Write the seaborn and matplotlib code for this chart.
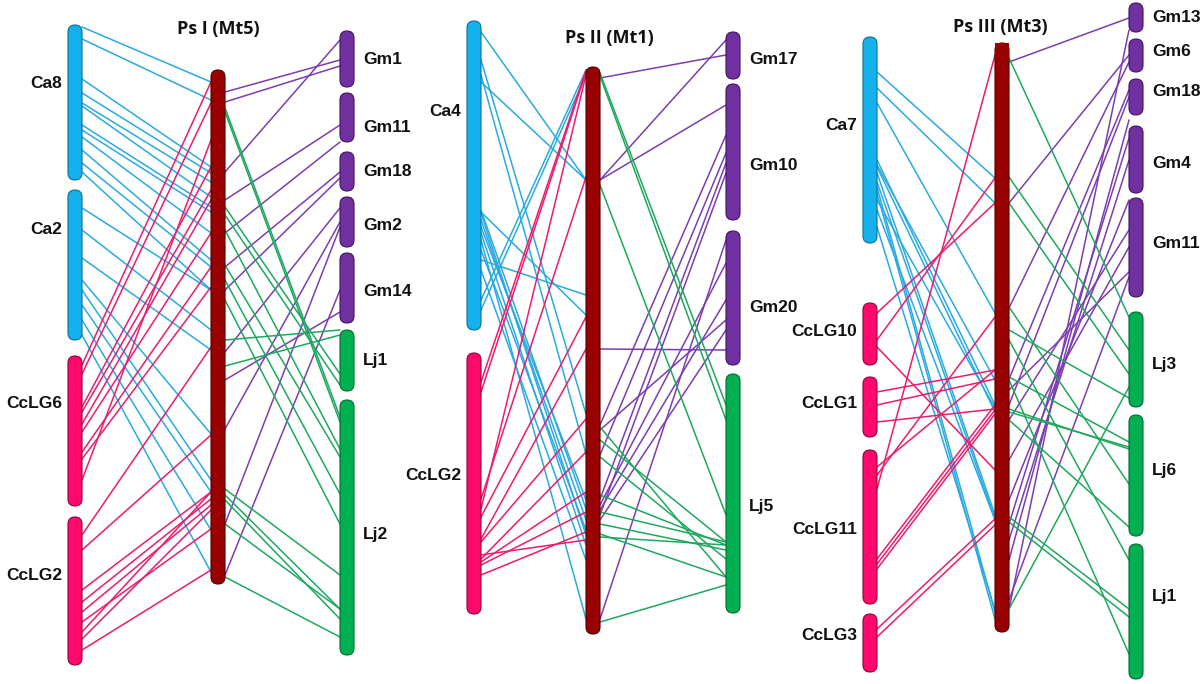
import numpy as np
import pandas as pd
import matplotlib
matplotlib.use("Agg")
import matplotlib.pyplot as plt
import seaborn as sns
from matplotlib.patches import FancyBboxPatch, Rectangle

# ---------------- DATA ----------------
titles = ["Ps I (Mt5)", "Ps II (Mt1)", "Ps III (Mt3)"]

# chromosome spans (positions along the synteny map, pixel-like units)
p1_left_names = ["Ca8", "Ca2", "CcLG6", "CcLG2"]
p1_left_start = [25, 190, 356, 517]
p1_left_end = [180, 340, 506, 665]
p1_center_span = [70, 584]
p1_right_names = ["Gm1", "Gm11", "Gm18", "Gm2", "Gm14", "Lj1", "Lj2"]
p1_right_start = [31, 93, 152, 197, 253, 330, 400]
p1_right_end = [87, 142, 191, 247, 323, 391, 655]

p2_left_names = ["Ca4", "CcLG2"]
p2_left_start = [21, 353]
p2_left_end = [330, 614]
p2_center_span = [67, 634]
p2_right_names = ["Gm17", "Gm10", "Gm20", "Lj5"]
p2_right_start = [32, 84, 231, 374]
p2_right_end = [79, 220, 365, 613]

p3_left_names = ["Ca7", "CcLG10", "CcLG1", "CcLG11", "CcLG3"]
p3_left_start = [37, 303, 377, 450, 614]
p3_left_end = [243, 365, 437, 604, 672]
p3_center_span = [43, 632]
p3_right_names = ["Gm13", "Gm6", "Gm18", "Gm4", "Gm11", "Lj3", "Lj6", "Lj1"]
p3_right_start = [3, 39, 79, 126, 198, 312, 415, 544]
p3_right_end = [32, 72, 115, 193, 297, 407, 536, 679]

# links: (position on outer chromosome, position on central chromosome)
p1_ca_src = [27, 39, 79, 93, 103, 106, 125, 130, 137, 150, 163, 172, 208, 230, 258, 280, 290, 305, 320, 335]
p1_ca_dst = [82, 100, 167, 173, 182, 197, 207, 212, 233, 260, 267, 290, 290, 330, 350, 434, 480, 492, 530, 572]
p1_cc_src = [365, 374, 407, 412, 424, 432, 452, 459, 480, 535, 550, 590, 602, 612, 622, 632, 639, 650]
p1_cc_dst = [82, 103, 167, 190, 200, 233, 267, 287, 140, 347, 435, 492, 499, 505, 529, 492, 510, 570]
p1_gm_src = [92, 102, 172, 200, 233, 267, 290, 352, 429, 524, 575, 380]
p1_gm_dst = [60, 66, 40, 125, 142, 172, 178, 208, 222, 227, 290, 312]
p1_lj_src = [108, 112, 207, 215, 230, 265, 280, 300, 366, 489, 495, 500, 524, 577, 340]
p1_lj_dst = [417, 422, 374, 385, 449, 457, 494, 524, 335, 575, 609, 619, 609, 637, 330]

p2_ca_src = [32, 60, 75, 82, 210, 213, 220, 227, 233, 260, 270, 300, 310, 212, 240, 250]
p2_ca_dst = [180, 414, 454, 180, 509, 535, 520, 500, 545, 295, 560, 70, 75, 315, 619, 530]
p2_cc_src = [382, 392, 499, 509, 517, 539, 542, 559, 562, 565, 575, 555]
p2_cc_dst = [70, 72, 177, 75, 317, 349, 419, 452, 492, 512, 532, 540]
p2_gm_src = [78, 180, 180, 425, 455, 499, 515, 619, 505, 510, 430, 520, 349]
p2_gm_dst = [55, 40, 105, 135, 153, 163, 173, 240, 263, 300, 320, 330, 350]
p2_lj_src = [73, 76, 185, 427, 457, 495, 512, 524, 534, 537, 622, 440]
p2_lj_dst = [405, 420, 515, 577, 559, 545, 542, 550, 577, 545, 585, 542]

p3_ca_src = [72, 88, 103, 160, 167, 173, 182, 187, 193, 200, 210, 227, 165]
p3_ca_dst = [178, 203, 313, 405, 412, 515, 519, 612, 619, 408, 520, 610, 380]
p3_cc_src = [313, 340, 489, 347, 392, 405, 422, 467, 475, 559, 564, 569, 629, 637]
p3_cc_dst = [203, 178, 55, 470, 370, 379, 409, 370, 317, 405, 410, 414, 519, 525]
p3_gm_src = [62, 609, 203, 308, 379, 405, 524, 540, 420, 460, 390, 600, 500, 560]
p3_gm_dst = [18, 30, 55, 62, 90, 97, 138, 160, 230, 247, 272, 277, 200, 120]
p3_lj_src = [58, 177, 203, 307, 377, 409, 412, 517, 522, 609, 420, 340, 380, 330]
p3_lj_dst = [317, 350, 374, 484, 442, 449, 447, 609, 617, 387, 527, 560, 654, 398]

# ---------------- LAYOUT / STYLE ----------------
col_x = [(75, 218, 347), (474, 593, 733), (870, 1002, 1136)]
half_w = 7
title_pos = [(218, 29), (609, 38), (1000, 27)]
p1_left_label_y = [84, 230, 404, 575]
p1_right_label_y = [59, 127, 172, 226, 291, 361, 535]
p2_left_label_y = [112, 475]
p2_right_label_y = [60, 165, 308, 507]
p3_left_label_y = [126, 331, 403, 530, 636]
p3_right_label_y = [17, 52, 92, 163, 243, 364, 470, 597]

fill = {"Ca": "#14B1EC", "Cc": "#FF0A6C", "C": "#990000", "Gm": "#7030A0", "Lj": "#00B050"}
edge = {"Ca": "#0A6F96", "Cc": "#8E0039", "C": "#4A0000", "Gm": "#3E1560", "Lj": "#006B30"}
link_pal = {"Ca": "#2AAAE0", "Cc": "#EC1C6C", "Gm": "#7B3DB0", "Lj": "#1EA85E"}

panels = [
    dict(ln=p1_left_names, ls=p1_left_start, le=p1_left_end, cs=p1_center_span,
         rn=p1_right_names, rs=p1_right_start, re=p1_right_end,
         links=[("Ca", p1_ca_src, p1_ca_dst), ("Cc", p1_cc_src, p1_cc_dst),
                ("Gm", p1_gm_dst, p1_gm_src), ("Lj", p1_lj_dst, p1_lj_src)],
         lly=p1_left_label_y, rly=p1_right_label_y),
    dict(ln=p2_left_names, ls=p2_left_start, le=p2_left_end, cs=p2_center_span,
         rn=p2_right_names, rs=p2_right_start, re=p2_right_end,
         links=[("Ca", p2_ca_src, p2_ca_dst), ("Cc", p2_cc_src, p2_cc_dst),
                ("Gm", p2_gm_dst, p2_gm_src), ("Lj", p2_lj_dst, p2_lj_src)],
         lly=p2_left_label_y, rly=p2_right_label_y),
    dict(ln=p3_left_names, ls=p3_left_start, le=p3_left_end, cs=p3_center_span,
         rn=p3_right_names, rs=p3_right_start, re=p3_right_end,
         links=[("Ca", p3_ca_src, p3_ca_dst), ("Cc", p3_cc_src, p3_cc_dst),
                ("Gm", p3_gm_dst, p3_gm_src), ("Lj", p3_lj_dst, p3_lj_src)],
         lly=p3_left_label_y, rly=p3_right_label_y),
]

# ---------------- BUILD LINK TABLE ----------------
rows = []
lid = 0
for pi, p in enumerate(panels):
    xl, xc, xr = col_x[pi]
    for kind, outer, centre in p["links"]:
        for o, c in zip(outer, centre):
            if kind in ("Ca", "Cc"):
                rows.append((pi, lid, kind, xl + half_w, o, 0))
                rows.append((pi, lid, kind, xc - half_w, c, 1))
            else:
                rows.append((pi, lid, kind, xc + half_w, c, 0))
                rows.append((pi, lid, kind, xr - half_w, o, 1))
            lid += 1
links = pd.DataFrame(rows, columns=["panel", "link", "kind", "x", "y", "order"])

# ---------------- DRAW ----------------
sns.set_theme(style="white")
plt.rcParams["font.family"] = ["Liberation Sans", "DejaVu Sans"]

fig = plt.figure(figsize=(12, 6.84), dpi=100)
ax = fig.add_axes([0, 0, 1, 1])

sns.lineplot(data=links, x="x", y="y", units="link", hue="kind", palette=link_pal,
             estimator=None, sort=False, legend=False, linewidth=1.1, ax=ax, zorder=2)


def chrom(x, y0, y1, key, square_top=False):
    r = half_w
    p = FancyBboxPatch((x - half_w, y0), 2 * half_w, y1 - y0,
                       boxstyle=f"round,pad=0,rounding_size={r}",
                       fc=fill[key], ec=edge[key], lw=0.8, zorder=3)
    ax.add_patch(p)
    if square_top:
        ax.add_patch(Rectangle((x - half_w, y0), 2 * half_w, 2 * r,
                               fc=fill[key], ec="none", zorder=3.1))


for pi, p in enumerate(panels):
    xl, xc, xr = col_x[pi]
    for name, s, e, ly in zip(p["ln"], p["ls"], p["le"], p["lly"]):
        key = "Ca" if name.startswith("Ca") else "Cc"
        chrom(xl, s, e, key)
        ax.text(xl - half_w - 6, ly, name, ha="right", va="center",
                fontsize=12.5, fontweight="bold", color="#111111", zorder=5)
    chrom(xc, p["cs"][0], p["cs"][1], "C", square_top=(pi == 2))
    for name, s, e, ly in zip(p["rn"], p["rs"], p["re"], p["rly"]):
        key = "Gm" if name.startswith("Gm") else "Lj"
        chrom(xr, s, e, key)
        ax.text(xr + half_w + 9, ly, name, ha="left", va="center",
                fontsize=12.5, fontweight="bold", color="#111111", zorder=5)
    tx, ty = title_pos[pi]
    ax.text(tx, ty, titles[pi], ha="center", va="center", fontsize=13,
            fontweight="bold", family=["Open Sans", "DejaVu Sans"], color="#111111", zorder=5)

ax.set_xlim(0, 1200)
ax.set_ylim(684, 0)
ax.set_axis_off()
fig.savefig("out.png", dpi=100, facecolor="white")
